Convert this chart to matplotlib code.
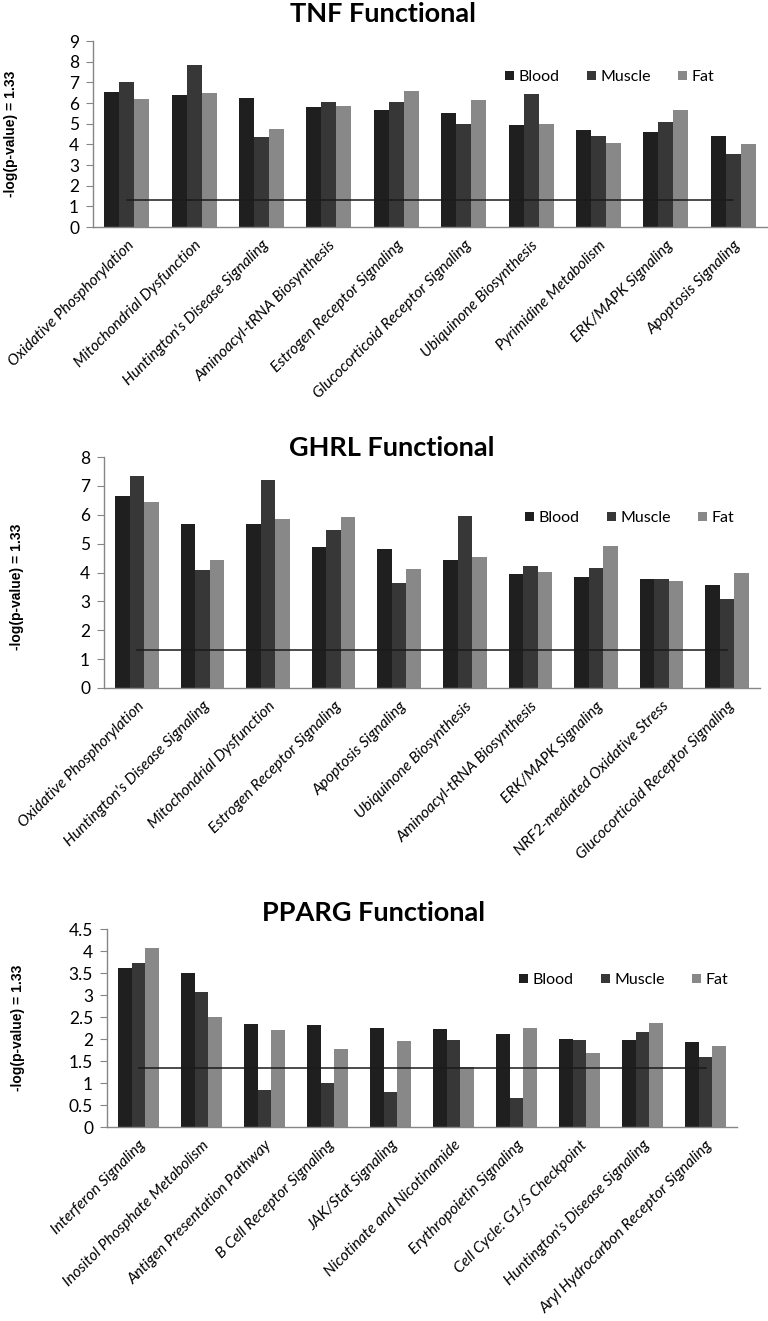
import numpy as np
import matplotlib
matplotlib.use("Agg")
import matplotlib.pyplot as plt
from matplotlib.patches import Patch

# ---- data ----
series = ["Blood", "Muscle", "Fat"]
colors = ["#1f1f1f", "#373737", "#888888"]
threshold = 1.33

tnf_cats = ["Oxidative Phosphorylation", "Mitochondrial Dysfunction",
            "Huntington's Disease Signaling", "Aminoacyl-tRNA Biosynthesis",
            "Estrogen Receptor Signaling", "Glucocorticoid Receptor Signaling",
            "Ubiquinone Biosynthesis", "Pyrimidine Metabolism",
            "ERK/MAPK Signaling", "Apoptosis Signaling"]
tnf_blood = [6.55, 6.41, 6.22, 5.83, 5.65, 5.51, 4.95, 4.67, 4.62, 4.38]
tnf_muscle = [7.03, 7.83, 4.37, 6.06, 6.06, 4.97, 6.44, 4.42, 5.10, 3.51]
tnf_fat = [6.19, 6.49, 4.76, 5.86, 6.57, 6.16, 4.98, 4.08, 5.64, 4.02]

ghrl_cats = ["Oxidative Phosphorylation", "Huntington's Disease Signaling",
             "Mitochondrial Dysfunction", "Estrogen Receptor Signaling",
             "Apoptosis Signaling", "Ubiquinone Biosynthesis",
             "Aminoacyl-tRNA Biosynthesis", "ERK/MAPK Signaling",
             "NRF2-mediated Oxidative Stress", "Glucocorticoid Receptor Signaling"]
ghrl_blood = [6.65, 5.69, 5.69, 4.90, 4.83, 4.43, 3.95, 3.85, 3.79, 3.55]
ghrl_muscle = [7.35, 4.09, 7.20, 5.46, 3.63, 5.97, 4.24, 4.16, 3.79, 3.07]
ghrl_fat = [6.43, 4.45, 5.87, 5.91, 4.13, 4.53, 4.03, 4.91, 3.69, 3.98]

pparg_cats = ["Interferon Signaling", "Inositol Phosphate Metabolism",
              "Antigen Presentation Pathway", "B Cell Receptor Signaling",
              "JAK/Stat Signaling", "Nicotinate and Nicotinamide",
              "Erythropoietin Signaling", "Cell Cycle: G1/S Checkpoint",
              "Huntington's Disease Signaling", "Aryl Hydrocarbon Receptor Signaling"]
pparg_blood = [3.62, 3.50, 2.34, 2.31, 2.24, 2.22, 2.11, 2.00, 1.98, 1.93]
pparg_muscle = [3.73, 3.07, 0.84, 1.01, 0.79, 1.97, 0.65, 1.98, 2.15, 1.58]
pparg_fat = [4.07, 2.50, 2.21, 1.78, 1.96, 1.36, 2.24, 1.69, 2.37, 1.83]

# layout in pixels of the 768x1321 canvas: axes box, title, y label, legend centres
panels = [
    dict(title="TNF Functional", cats=tnf_cats, vals=[tnf_blood, tnf_muscle, tnf_fat],
         ymax=9, step=1, rect=[93, 41, 767, 227], title_xy=(383, 14),
         ylab_xy=(11, 134), leg_xy=(610, 77)),
    dict(title="GHRL Functional", cats=ghrl_cats, vals=[ghrl_blood, ghrl_muscle, ghrl_fat],
         ymax=8, step=1, rect=[104, 457, 760, 688], title_xy=(392, 448),
         ylab_xy=(17, 587), leg_xy=(630, 518)),
    dict(title="PPARG Functional", cats=pparg_cats, vals=[pparg_blood, pparg_muscle, pparg_fat],
         ymax=4.5, step=0.5, rect=[107, 929, 737, 1127], title_xy=(374, 913),
         ylab_xy=(18, 1028), leg_xy=(624, 980)),
]

W, H = 768, 1321
fig = plt.figure(figsize=(W / 100, H / 100), dpi=100)

body_font = "Lato"
axis_gray = "#868686"

for p in panels:
    x0, y0, x1, y1 = p["rect"]
    ax = fig.add_axes([x0 / W, 1 - y1 / H, (x1 - x0) / W, (y1 - y0) / H])
    n = len(p["cats"])
    x = np.arange(n)
    width = 0.222
    for k, (vals, c) in enumerate(zip(p["vals"], colors)):
        ax.bar(x + (k - 1) * width, vals, width, color=c, linewidth=0)
    # significance threshold drawn as a line series across the categories
    ax.plot([x[0], x[-1]], [threshold, threshold], color="#1a1a1a", lw=1.1)

    ax.set_xlim(-0.5, n - 0.5)
    ax.set_ylim(0, p["ymax"])
    ticks = np.arange(0, p["ymax"] + 1e-9, p["step"])
    ax.set_yticks(ticks)
    ax.set_yticklabels([f"{t:g}" for t in ticks], fontfamily=body_font, fontsize=12.5)
    ax.set_xticks(x)
    ax.set_xticklabels(p["cats"], rotation=45, ha="right", rotation_mode="anchor",
                       fontfamily=body_font, fontstyle="italic", fontsize=11.2)
    ax.tick_params(axis="x", length=0, pad=8)
    ax.tick_params(axis="y", length=5, color=axis_gray, pad=5)
    for s in ["top", "right"]:
        ax.spines[s].set_visible(False)
    for s in ["left", "bottom"]:
        ax.spines[s].set_color(axis_gray)
        ax.spines[s].set_linewidth(1)

    handles = [Patch(facecolor=c, edgecolor="none", label=s) for s, c in zip(series, colors)]
    ax.legend(handles=handles, loc="center",
              bbox_to_anchor=(p["leg_xy"][0] / W, 1 - p["leg_xy"][1] / H),
              bbox_transform=fig.transFigure, ncol=3, frameon=False,
              prop={"family": body_font, "size": 11.5}, handlelength=0.55, handleheight=0.55,
              handletextpad=0.3, columnspacing=1.7, borderaxespad=0)

    fig.text(p["title_xy"][0] / W, 1 - p["title_xy"][1] / H, p["title"], ha="center", va="center",
             fontfamily=body_font, fontweight="bold", fontsize=19.5)
    fig.text(p["ylab_xy"][0] / W, 1 - p["ylab_xy"][1] / H, "-log(p-value) = 1.33", rotation=90,
             ha="center", va="center", fontfamily="Liberation Sans", fontweight="bold", fontsize=10)

fig.savefig("out.png", dpi=100)
